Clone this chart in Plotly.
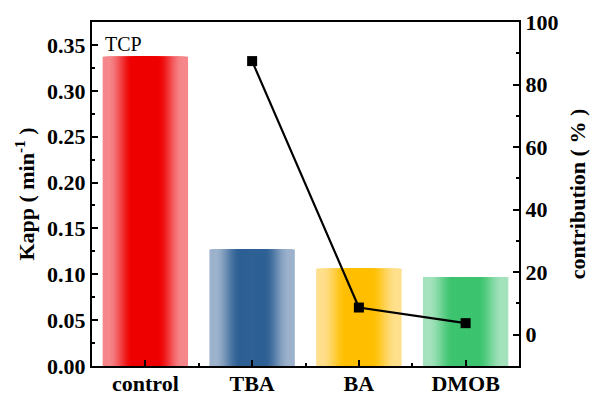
import plotly.graph_objects as go

# Rate constants and scavenger contributions
categories = ["control", "TBA", "BA", "DMOB"]
kapp = [0.337, 0.127, 0.106, 0.097]
contribution = [None, 87.5, 8.7, 3.7]

# Bar colours: centre (saturated) and edge (light) of each horizontal gradient
center_colors = ["#EE0000", "#2E6095", "#FFBF00", "#3CC46E"]
edge_colors = ["#F5878B", "#9DB2CC", "#FEDF8C", "#A4E2BD"]

FONT = "Liberation Serif"


def hex_to_rgb(h):
    h = h.lstrip("#")
    return tuple(int(h[i:i + 2], 16) for i in (0, 2, 4))


def mix(c1, c2, t):
    a, b = hex_to_rgb(c1), hex_to_rgb(c2)
    return "rgb({},{},{})".format(*[round(a[i] + (b[i] - a[i]) * t) for i in range(3)])


def smoothstep(e0, e1, v):
    s = min(1.0, max(0.0, (v - e0) / (e1 - e0)))
    return s * s * (3 - 2 * s)


x_pos = list(range(len(categories)))
fig = go.Figure()

# Stack of narrowing, centred bars gives a light-edge / dark-centre gradient
n_layers = 40
full_width = 0.8
for k in range(n_layers):
    h = 1 - k / n_layers          # half-width fraction of this layer
    width = full_width * h
    t = 1 - smoothstep(0.3, 0.88, h)
    colors = [mix(e, c, t) for e, c in zip(edge_colors, center_colors)]
    fig.add_trace(go.Bar(
        x=x_pos, y=kapp, width=width, offset=-width / 2,
        marker=dict(color=colors, line=dict(width=0)),
        showlegend=False, hoverinfo="skip",
    ))

fig.add_trace(go.Scatter(
    x=x_pos, y=contribution, yaxis="y2", mode="lines+markers",
    line=dict(color="black", width=2.2),
    marker=dict(symbol="square", size=10, color="black"),
    showlegend=False, connectgaps=False,
))

tick_font = dict(family=FONT, size=22, color="black", weight="bold")
title_font = dict(family=FONT, size=22, color="black", weight="bold")

fig.update_layout(
    width=591, height=394,
    margin=dict(l=92, r=72, t=22, b=28, autoexpand=False),
    paper_bgcolor="white", plot_bgcolor="white",
    barmode="overlay",
    xaxis=dict(
        range=[-0.5, 3.5], tickvals=x_pos, ticktext=categories,
        showline=True, linecolor="black", linewidth=2, mirror=True,
        ticks="inside", ticklen=6, tickwidth=2, tickcolor="black",
        minor=dict(dtick=0.5, tick0=-0.5, ticks="inside", ticklen=3, tickwidth=2, tickcolor="black"),
        tickfont=tick_font, ticklabelstandoff=-3, showgrid=False, zeroline=False,
    ),
    yaxis=dict(
        range=[0, 0.375], dtick=0.05, tickformat=".2f",
        showline=True, linecolor="black", linewidth=2,
        ticks="inside", ticklen=6, tickwidth=2, tickcolor="black",
        minor=dict(dtick=0.025, ticks="inside", ticklen=3, tickwidth=2, tickcolor="black"),
        tickfont=tick_font, showgrid=False, zeroline=False,
        title=dict(text="Kapp ( min<sup>-1</sup> )", font=title_font, standoff=6),
    ),
    yaxis2=dict(
        range=[-10, 100], dtick=20, overlaying="y", side="right",
        showline=True, linecolor="black", linewidth=2,
        ticks="inside", ticklen=6, tickwidth=2, tickcolor="black",
        minor=dict(dtick=10, ticks="inside", ticklen=3, tickwidth=2, tickcolor="black"),
        tickfont=tick_font, showgrid=False, zeroline=False,
        title=dict(text="contribution ( % )", font=title_font, standoff=12),
    ),
    annotations=[dict(
        text="TCP", xref="paper", yref="paper", x=0.025, y=0.975,
        xanchor="left", yanchor="top", showarrow=False,
        font=dict(family=FONT, size=20, color="black"),
    )],
)

fig.write_html("out.html")
